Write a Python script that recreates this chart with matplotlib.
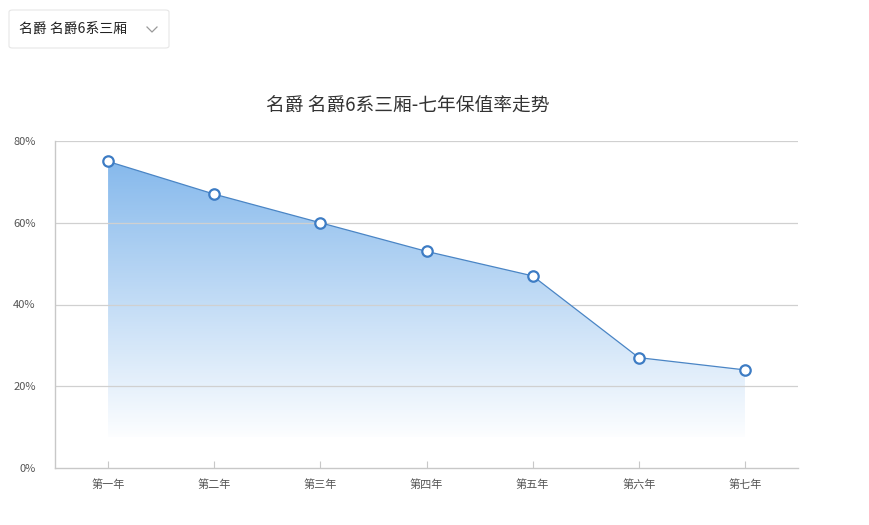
import matplotlib.pyplot as plt
import numpy as np
from matplotlib.patches import Polygon, FancyBboxPatch

plt.rcParams['font.family'] = ['Noto Sans CJK SC', 'DejaVu Sans']

years = ['第一年', '第二年', '第三年', '第四年', '第五年', '第六年', '第七年']
rates = [75, 67, 60, 53, 47, 27, 24]
yticks = [0, 20, 40, 60, 80]
title = '名爵 名爵6系三厢-七年保值率走势'
select_text = '名爵 名爵6系三厢'

fig = plt.figure(figsize=(8.69, 5.25), dpi=100)
ax = fig.add_axes([55 / 869, 1 - 468 / 525, 743 / 869, 327 / 525])

x = np.arange(len(years))
fill_bottom = 7.5

# 渐变填充
verts = [(x[0], fill_bottom)] + list(zip(x, rates)) + [(x[-1], fill_bottom)]
poly = Polygon(verts, closed=True, facecolor='none', edgecolor='none')
ax.add_patch(poly)
n = 256
grad = np.ones((n, 1, 4))
top = np.array([134, 185, 236]) / 255
t = np.linspace(0, 1, n)[:, None]
grad[:, 0, :3] = top * (1 - t) + np.array([0.99, 0.995, 1.0]) * t
im = ax.imshow(grad, aspect='auto', extent=[x[0], x[-1], fill_bottom, max(rates)],
               origin='upper', zorder=1)
im.set_clip_path(poly)

ax.plot(x, rates, color='#4a85c5', lw=0.9, zorder=3)
ax.plot(x, rates, 'o', ms=7.5, mfc='white', mec='#3d7cc4', mew=1.6, zorder=4)

ax.set_xlim(-0.5, len(years) - 0.5)
ax.set_ylim(0, 80)
ax.set_xticks(x)
ax.set_xticklabels(years, fontsize=8, color='#555555')
ax.set_yticks(yticks)
ax.set_yticklabels([f'{v}%' for v in yticks], fontsize=8, color='#555555')
ax.tick_params(axis='x', direction='in', length=5, color='#c8c8c8', pad=8)
ax.tick_params(axis='y', length=0, pad=14)
for v in yticks[1:]:
    ax.axhline(v, color='#d0d0d0', lw=0.9, zorder=2)
for s in ['top', 'right']:
    ax.spines[s].set_visible(False)
for s in ['left', 'bottom']:
    ax.spines[s].set_color('#c8c8c8')
    ax.spines[s].set_linewidth(1.0)

fig.text(408 / 869, 1 - 106 / 525, title, fontsize=13.5, color='#333333',
         ha='center', va='center')

# 下拉框
box = FancyBboxPatch((9 / 869, 1 - 48 / 525), 160 / 869, 38 / 525,
                     boxstyle='round,pad=0,rounding_size=0.004',
                     transform=fig.transFigure, facecolor='white',
                     edgecolor='#e6e6e6', lw=0.8)
fig.patches.append(box)
fig.text(19 / 869, 1 - 30 / 525, select_text, fontsize=10, color='#222222',
         ha='left', va='center')
fig.lines.append(plt.Line2D([147 / 869, 152 / 869, 157 / 869],
                            [1 - 27 / 525, 1 - 32 / 525, 1 - 27 / 525],
                            transform=fig.transFigure, color='#999999', lw=0.9))

fig.savefig('out.png', dpi=100)
